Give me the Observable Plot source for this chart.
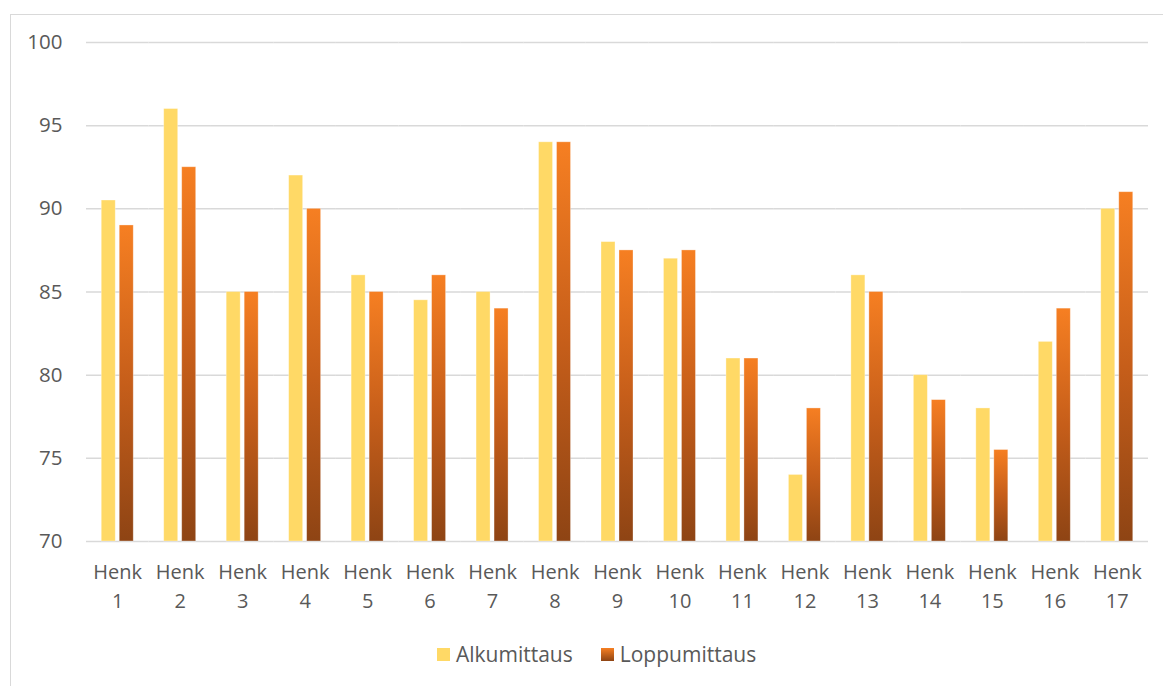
<!DOCTYPE html>
<html>
<head>
<meta charset="utf-8">
<script src="https://cdn.jsdelivr.net/npm/d3@7"></script>
<script src="https://cdn.jsdelivr.net/npm/@observablehq/plot@0.6"></script>
<style>
  body { margin: 0; background: #fff; font-family: "Open Sans", sans-serif; }
  #frame { position: absolute; left: 10px; top: 14px; width: 1200px; height: 700px; border: 1px solid #d9d9d9; box-sizing: border-box; }
  #chart { position: absolute; left: 0; top: 0; }
  #legend { position: absolute; left: 437px; top: 640px; display: flex; align-items: center; font-size: 21px; color: #595959; }
  .item { display: flex; align-items: center; margin-right: 28px; }
  .sw { width: 13px; height: 13px; margin-right: 6px; }
</style>
</head>
<body>
<div id="frame"></div>
<div id="chart"></div>
<div id="legend"></div>
<script>
const names = ["Henk 1","Henk 2","Henk 3","Henk 4","Henk 5","Henk 6","Henk 7","Henk 8","Henk 9","Henk 10","Henk 11","Henk 12","Henk 13","Henk 14","Henk 15","Henk 16","Henk 17"];
const alku   = [90.5, 96, 85, 92, 86, 84.5, 85, 94, 88, 87, 81, 74, 86, 80, 78, 82, 90];
const loppu  = [89, 92.5, 85, 90, 85, 86, 84, 94, 87.5, 87.5, 81, 78, 85, 78.5, 75.5, 84, 91];
const seriesNames = ["Alkumittaus", "Loppumittaus"];
const yTicks = [70, 75, 80, 85, 90, 95, 100];

const rowsA = names.map((n, i) => ({name: n, series: seriesNames[0], value: alku[i]}));
const rowsL = names.map((n, i) => ({name: n, series: seriesNames[1], value: loppu[i]}));

const chart = Plot.plot({
  width: 1163,
  height: 625,
  marginLeft: 86,
  marginRight: 15,
  marginTop: 42,
  marginBottom: 84,
  style: {fontFamily: "'Open Sans', sans-serif", background: "transparent"},
  fx: {domain: names, padding: 0, round: false, label: null},
  x: {domain: seriesNames, paddingInner: 0.222, paddingOuter: 0.847, round: false, axis: null},
  y: {domain: [70, 100], label: null},
  marks: [
    Plot.gridY(yTicks, {stroke: "#d9d9d9", strokeOpacity: 1, strokeWidth: 1.5}),
    Plot.barY(rowsA, {fx: "name", x: "series", y1: 70, y2: "value", fill: "#FFD966", stroke: "#ffffff", strokeOpacity: 0.4, strokeWidth: 0.8}),
    Plot.barY(rowsL, {fx: "name", x: "series", y1: 70, y2: "value", fill: "url(#loppuGrad)", stroke: "#ffffff", strokeOpacity: 0.4, strokeWidth: 0.8}),
    Plot.axisY({ticks: yTicks, tickSize: 0, tickPadding: 24, fontSize: 20.5, fill: "#595959", label: null}),
    Plot.axisFx({anchor: "bottom", tickSize: 0, tickPadding: 17, fontSize: 20, fill: "#595959", lineHeight: 1.45, label: null,
      tickFormat: d => d.replace(" ", "\n")})
  ]
});

const defs = d3.select(chart).insert("defs", ":first-child");
const grad = defs.append("linearGradient").attr("id", "loppuGrad")
  .attr("x1", 0).attr("y1", 0).attr("x2", 0).attr("y2", 1);
grad.append("stop").attr("offset", "0%").attr("stop-color", "#F67F22");
grad.append("stop").attr("offset", "50%").attr("stop-color", "#C65E1A");
grad.append("stop").attr("offset", "100%").attr("stop-color", "#8E4414");

document.getElementById("chart").appendChild(chart);

const legend = d3.select("#legend");
const swatches = ["#FFD966", "linear-gradient(#F67F22, #8E4414)"];
seriesNames.forEach((s, i) => {
  const it = legend.append("div").attr("class", "item");
  it.append("div").attr("class", "sw").style("background", swatches[i]);
  it.append("span").text(s);
});
</script>
</body>
</html>
